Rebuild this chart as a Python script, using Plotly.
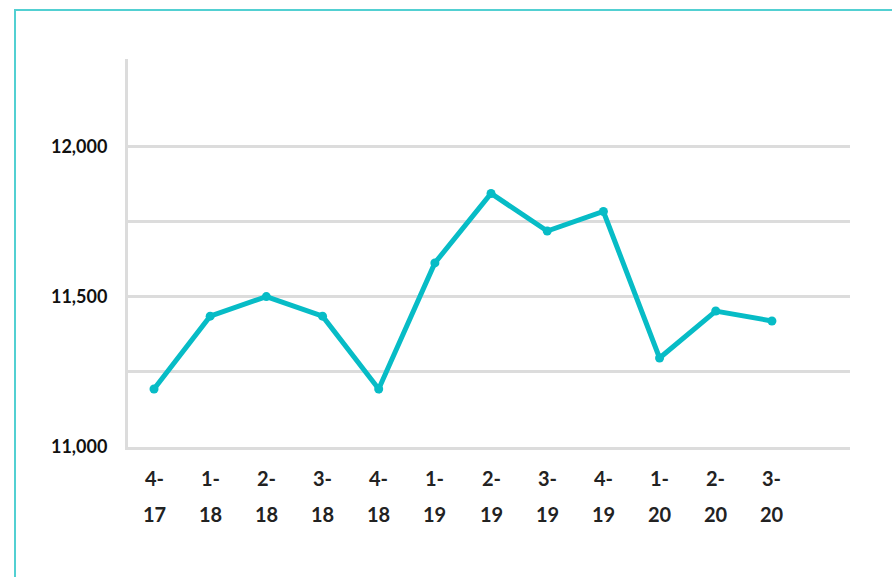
import plotly.graph_objects as go

quarters = ["4-17", "1-18", "2-18", "3-18", "4-18", "1-19", "2-19", "3-19", "4-19", "1-20", "2-20", "3-20"]
label_top = ["4-", "1-", "2-", "3-", "4-", "1-", "2-", "3-", "4-", "1-", "2-", "3-"]
label_bottom = ["17", "18", "18", "18", "18", "19", "19", "19", "19", "20", "20", "20"]
values = [11193, 11435, 11500, 11435, 11193, 11612, 11843, 11718, 11783, 11296, 11452, 11419]

y_tickvals = [11000, 11250, 11500, 11750, 12000]
y_ticktext = ["11,000", "", "11,500", "", "12,000"]

LINE = "#07bcc6"
GRID = "#dcdcdc"

fig = go.Figure()
fig.add_trace(go.Scatter(
    x=quarters, y=values, mode="lines+markers",
    line=dict(color=LINE, width=5),
    marker=dict(color=LINE, size=9),
    hoverinfo="skip", showlegend=False,
))

xfont = dict(family="Lato", size=20, color="#222222", weight="bold")
annotations = []
for q, t, b in zip(quarters, label_top, label_bottom):
    annotations.append(dict(x=q, xref="x", y=0, yref="paper", text=t, showarrow=False,
                            yanchor="middle", yshift=-31, font=xfont))
    annotations.append(dict(x=q, xref="x", y=0, yref="paper", text=b, showarrow=False,
                            yanchor="middle", yshift=-67, font=xfont))

fig.update_layout(
    width=892, height=577,
    margin=dict(l=128, r=42, t=59, b=130),
    paper_bgcolor="white", plot_bgcolor="white",
    xaxis=dict(
        type="category", range=[-0.463, 12.39],
        showticklabels=False, showgrid=False, zeroline=False,
        showline=True, linecolor=GRID, linewidth=3, ticks="",
    ),
    yaxis=dict(
        range=[11000, 12290],
        tickvals=y_tickvals, ticktext=y_ticktext,
        showgrid=True, gridcolor=GRID, gridwidth=2.5, zeroline=False,
        showline=True, linecolor=GRID, linewidth=3, ticks="",
        ticklabelstandoff=14,
        tickfont=dict(family="Lato", size=18, color="#111111", weight="bold"),
    ),
    annotations=annotations,
    shapes=[dict(type="path", xref="paper", yref="paper",
                 path="M -0.1565,-0.5 L -0.1565,1.1263 L 1.2,1.1263",
                 line=dict(color="#52d0d2", width=2))],
)

fig.write_html("out.html", config={"displayModeBar": False},
               post_script="document.body.style.margin='0';document.body.style.padding='0';")
